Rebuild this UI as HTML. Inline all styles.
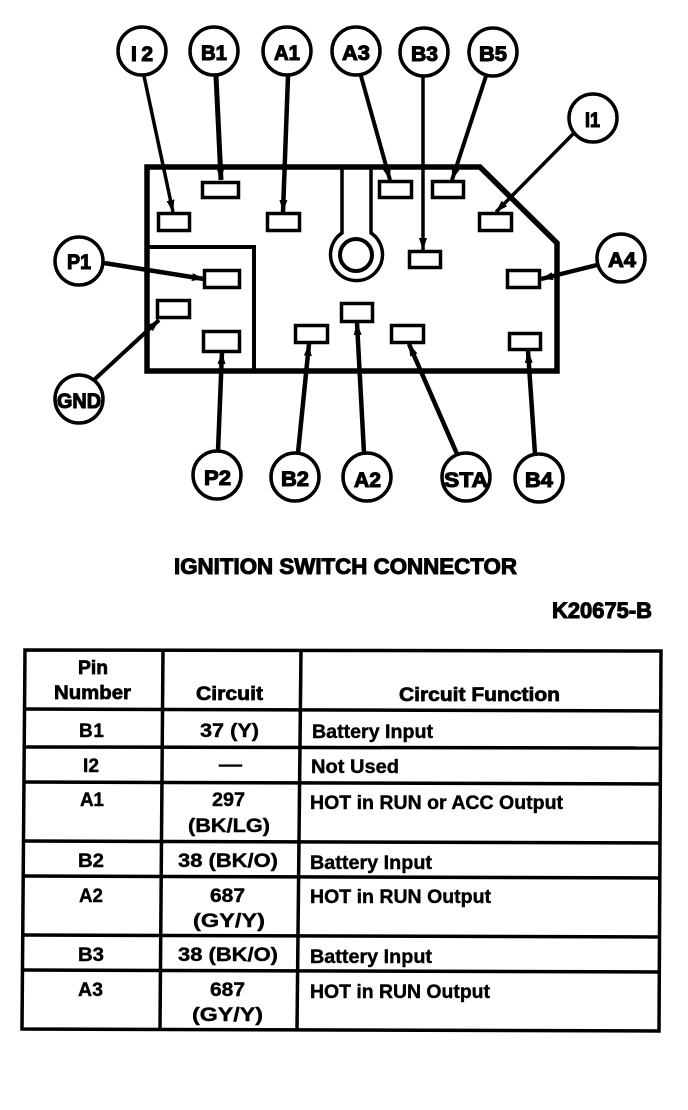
<!DOCTYPE html>
<html><head><meta charset="utf-8"><style>
html,body{margin:0;padding:0;background:#fff}
svg{display:block}
text{font-family:"Liberation Sans",sans-serif;font-weight:bold;fill:#000}
.c text{stroke:#000;stroke-width:1.1px;font-size:21px}
.h{font-size:19px;stroke:#000;stroke-width:.7px}
.t{font-size:19px;stroke:#000;stroke-width:.4px}
</style></head><body>
<svg width="688" height="1110" viewBox="0 0 688 1110" xmlns="http://www.w3.org/2000/svg">
<defs><marker id="a" markerUnits="userSpaceOnUse" markerWidth="13" markerHeight="10" refX="12" refY="5" orient="auto"><path d="M0 1L12 5L0 9Z" fill="#000"/></marker></defs>

<!-- body -->
<path d="M147 167H480L557 243V371H147Z" fill="none" stroke="#000" stroke-width="5.500"/>
<path d="M147 247H254V371" fill="none" stroke="#000" stroke-width="4"/>
<path d="M342 167V233A26 26 0 1 0 371 231V167" stroke="none" fill="none"/>
<path d="M342 167V233A26 26 0 1 0 371 233V167" stroke="#000" stroke-width="3.500" fill="none"/>
<circle cx="356" cy="255" r="16" fill="none" stroke="#000" stroke-width="4"/>

<!-- pins -->
<g fill="#fff" stroke="#000" stroke-width="3.500">
<rect x="158.500" y="213.500" width="31" height="17"/>
<rect x="202.500" y="182.500" width="36" height="15"/>
<rect x="267.500" y="213.500" width="32" height="17"/>
<rect x="379.500" y="181.500" width="32" height="16"/>
<rect x="432.500" y="181.500" width="31" height="16"/>
<rect x="479.500" y="213.500" width="32" height="17"/>
<rect x="409.500" y="251.500" width="31" height="16"/>
<rect x="204.500" y="270.500" width="35" height="17"/>
<rect x="157.500" y="300.500" width="32" height="17"/>
<rect x="203.500" y="331.500" width="36" height="20"/>
<rect x="295.500" y="325.500" width="32" height="17"/>
<rect x="341.500" y="303.500" width="31" height="18"/>
<rect x="391.500" y="325.500" width="32" height="17"/>
<rect x="507.500" y="270.500" width="32" height="17"/>
<rect x="509.500" y="333.500" width="31" height="16"/>
</g>

<!-- connectors -->
<g stroke="#000">
<line x1="144" y1="76" x2="173" y2="212" stroke-width="3.500" marker-end="url(#a)"/>
<line x1="216" y1="76" x2="221" y2="180" stroke-width="5" marker-end="url(#a)"/>
<line x1="288" y1="76" x2="283" y2="212" stroke-width="4.500" marker-end="url(#a)"/>
<line x1="361" y1="76" x2="390" y2="180" stroke-width="4" marker-end="url(#a)"/>
<line x1="423" y1="76" x2="423" y2="250" stroke-width="3.500" marker-end="url(#a)"/>
<line x1="486" y1="76" x2="452" y2="180" stroke-width="4" marker-end="url(#a)"/>
<line x1="573" y1="134" x2="496" y2="212" stroke-width="3.500" marker-end="url(#a)"/>
<line x1="597" y1="265" x2="541" y2="279" stroke-width="4.500" marker-end="url(#a)"/>
<line x1="104" y1="263" x2="204" y2="279" stroke-width="4.500" marker-end="url(#a)"/>
<line x1="95" y1="379" x2="159" y2="320" stroke-width="4" marker-end="url(#a)"/>
<line x1="218" y1="451" x2="222" y2="352" stroke-width="4.500" marker-end="url(#a)"/>
<line x1="298" y1="453" x2="309" y2="344" stroke-width="4.500" marker-end="url(#a)"/>
<line x1="364" y1="453" x2="357" y2="323" stroke-width="4.500" marker-end="url(#a)"/>
<line x1="457" y1="454" x2="409" y2="344" stroke-width="4.500" marker-end="url(#a)"/>
<line x1="535" y1="454" x2="528" y2="351" stroke-width="4.500" marker-end="url(#a)"/>
</g>

<!-- callouts -->
<g fill="#fff" stroke="#000" stroke-width="3.500">
<circle cx="142" cy="51" r="24"/><circle cx="214" cy="51" r="24"/><circle cx="287" cy="51" r="24"/>
<circle cx="356" cy="51" r="24"/><circle cx="424" cy="52" r="24"/><circle cx="493" cy="52" r="24"/>
<circle cx="593" cy="118" r="24"/><circle cx="621" cy="258" r="24"/><circle cx="79" cy="261" r="24"/>
<circle cx="79" cy="399" r="24"/><circle cx="217" cy="475" r="24"/><circle cx="295" cy="477" r="24"/>
<circle cx="367" cy="477" r="24"/><circle cx="466" cy="477" r="24"/><circle cx="539" cy="478" r="24"/>
</g>
<g class="c">
<text x="131" y="61" textLength="22" lengthAdjust="spacing">I2</text>
<text x="201" y="60" textLength="26" lengthAdjust="spacingAndGlyphs">B1</text>
<text x="274" y="60" textLength="26" lengthAdjust="spacingAndGlyphs">A1</text>
<text x="342" y="60" textLength="28" lengthAdjust="spacingAndGlyphs">A3</text>
<text x="411" y="61" textLength="27" lengthAdjust="spacingAndGlyphs">B3</text>
<text x="479" y="61" textLength="28" lengthAdjust="spacingAndGlyphs">B5</text>
<text x="585" y="127" textLength="15" lengthAdjust="spacingAndGlyphs">I1</text>
<text x="608" y="267" textLength="28" lengthAdjust="spacingAndGlyphs">A4</text>
<text x="67" y="269" textLength="24" lengthAdjust="spacingAndGlyphs">P1</text>
<text x="57" y="408" textLength="44" lengthAdjust="spacingAndGlyphs">GND</text>
<text x="204" y="485" textLength="27" lengthAdjust="spacingAndGlyphs">P2</text>
<text x="281" y="486" textLength="28" lengthAdjust="spacingAndGlyphs">B2</text>
<text x="354" y="487" textLength="27" lengthAdjust="spacingAndGlyphs">A2</text>
<text x="444" y="487" textLength="44" lengthAdjust="spacingAndGlyphs">STA</text>
<text x="525" y="487" textLength="28" lengthAdjust="spacingAndGlyphs">B4</text>
</g>

<text x="174" y="574" font-size="22" stroke="#000" stroke-width="1" textLength="343" lengthAdjust="spacingAndGlyphs">IGNITION SWITCH CONNECTOR</text>
<text x="552" y="618" font-size="22" stroke="#000" stroke-width="1" textLength="100" lengthAdjust="spacingAndGlyphs">K20675-B</text>

<!-- table -->
<g stroke="#000" stroke-width="3.500" fill="none">
<path d="M25 650L661 651L659 1031L22 1029Z"/>
<line x1="163" y1="650" x2="160" y2="1029"/>
<line x1="301" y1="650" x2="297" y2="1030"/>
<line x1="25" y1="709" x2="660" y2="711"/>
<line x1="24" y1="747" x2="660" y2="748"/>
<line x1="24" y1="782" x2="660" y2="784"/>
<line x1="23" y1="841" x2="660" y2="843"/>
<line x1="23" y1="876" x2="660" y2="878"/>
<line x1="23" y1="935" x2="660" y2="937"/>
<line x1="22" y1="970" x2="659" y2="972"/>
</g>

<text class="h" x="78" y="674" textLength="30" lengthAdjust="spacingAndGlyphs">Pin</text>
<text class="h" x="54" y="699" textLength="77" lengthAdjust="spacingAndGlyphs">Number</text>
<text class="h" x="196" y="700" textLength="67" lengthAdjust="spacingAndGlyphs">Circuit</text>
<text class="h" x="399" y="701" textLength="161" lengthAdjust="spacingAndGlyphs">Circuit Function</text>

<text class="t" x="79" y="737" textLength="25" lengthAdjust="spacing">B1</text>
<text class="t" x="200" y="737" textLength="59" lengthAdjust="spacingAndGlyphs">37 (Y)</text>
<text class="t" x="312" y="738" textLength="121" lengthAdjust="spacingAndGlyphs">Battery Input</text>
<text class="t" x="83" y="772" textLength="16" lengthAdjust="spacingAndGlyphs">I2</text>
<text class="t" x="219" y="771" textLength="23" lengthAdjust="spacingAndGlyphs">—</text>
<text class="t" x="311" y="773" textLength="88" lengthAdjust="spacingAndGlyphs">Not Used</text>
<text class="t" x="80" y="806" textLength="24" lengthAdjust="spacing">A1</text>
<text class="t" x="212" y="806" textLength="33" lengthAdjust="spacingAndGlyphs">297</text>
<text class="t" x="188" y="832" textLength="82" lengthAdjust="spacingAndGlyphs">(BK/LG)</text>
<text class="t" x="310" y="809" textLength="253" lengthAdjust="spacingAndGlyphs">HOT in RUN or ACC Output</text>
<text class="t" x="78" y="867" textLength="26" lengthAdjust="spacingAndGlyphs">B2</text>
<text class="t" x="178" y="867" textLength="100" lengthAdjust="spacingAndGlyphs">38 (BK/O)</text>
<text class="t" x="310" y="869" textLength="122" lengthAdjust="spacingAndGlyphs">Battery Input</text>
<text class="t" x="79" y="902" textLength="24" lengthAdjust="spacingAndGlyphs">A2</text>
<text class="t" x="210" y="902" textLength="35" lengthAdjust="spacingAndGlyphs">687</text>
<text class="t" x="193" y="927" textLength="72" lengthAdjust="spacingAndGlyphs">(GY/Y)</text>
<text class="t" x="310" y="903" textLength="181" lengthAdjust="spacingAndGlyphs">HOT in RUN Output</text>
<text class="t" x="78" y="961" textLength="26" lengthAdjust="spacingAndGlyphs">B3</text>
<text class="t" x="178" y="961" textLength="100" lengthAdjust="spacingAndGlyphs">38 (BK/O)</text>
<text class="t" x="310" y="963" textLength="122" lengthAdjust="spacingAndGlyphs">Battery Input</text>
<text class="t" x="78" y="996" textLength="25" lengthAdjust="spacingAndGlyphs">A3</text>
<text class="t" x="210" y="996" textLength="35" lengthAdjust="spacingAndGlyphs">687</text>
<text class="t" x="192" y="1021" textLength="71" lengthAdjust="spacingAndGlyphs">(GY/Y)</text>
<text class="t" x="310" y="998" textLength="180" lengthAdjust="spacingAndGlyphs">HOT in RUN Output</text>
</svg>
</body></html>
